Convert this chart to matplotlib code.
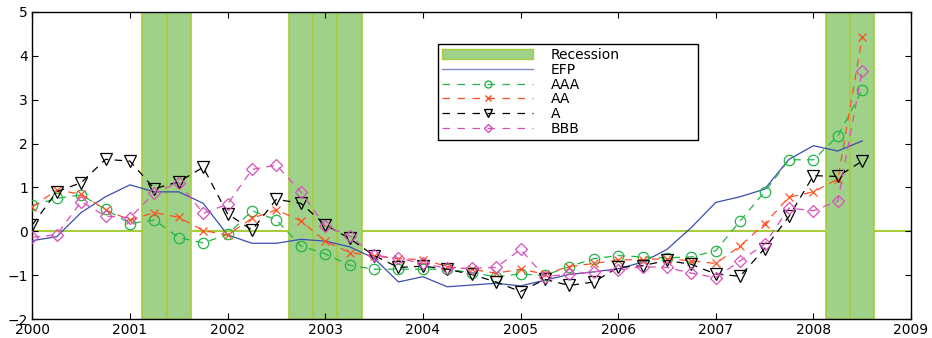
import matplotlib
matplotlib.use('Agg')
import matplotlib.pyplot as plt
from matplotlib.patches import Patch
from matplotlib.lines import Line2D
import numpy as np

plt.rcParams['font.family'] = ['DejaVu Sans']

# quarterly observations, 2000Q1 .. 2008Q3
t = 2000 + np.arange(35) * 0.25

efp = [-0.21, -0.12, 0.43, 0.79, 1.06, 0.9, 0.9, 0.64, -0.08, -0.27, -0.27, -0.18,
       -0.22, -0.35, -0.61, -1.15, -1.03, -1.26, -1.22, -1.18, -1.24, -1.11, -0.98, -0.92,
       -0.85, -0.7, -0.41, 0.09, 0.66, 0.79, 0.96, 1.64, 1.95, 1.83, 2.06]
aaa = [0.59, 0.75, 0.83, 0.5, 0.18, 0.26, -0.14, -0.26, -0.07, 0.47, 0.26, -0.33,
       -0.51, -0.77, -0.86, -0.86, -0.86, -0.86, -0.94, -1.03, -0.97, -1.0, -0.8, -0.62,
       -0.55, -0.58, -0.6, -0.58, -0.44, 0.24, 0.9, 1.63, 1.63, 2.17, 3.22]
aa = [0.56, 0.94, 0.85, 0.49, 0.26, 0.43, 0.32, 0.02, -0.08, 0.3, 0.49, 0.24,
      -0.22, -0.48, -0.56, -0.62, -0.64, -0.8, -0.86, -0.95, -0.86, -0.97, -0.8, -0.73,
      -0.65, -0.64, -0.62, -0.67, -0.73, -0.33, 0.17, 0.78, 0.9, 1.19, 4.42]
a = [0.15, 0.9, 1.11, 1.64, 1.6, 0.97, 1.13, 1.46, 0.4, 0.03, 0.73, 0.64,
     0.15, -0.16, -0.55, -0.82, -0.79, -0.86, -0.98, -1.15, -1.37, -1.09, -1.23, -1.15,
     -0.82, -0.78, -0.66, -0.75, -0.97, -1.02, -0.39, 0.34, 1.27, 1.25, 1.6]
bbb = [-0.13, -0.08, 0.68, 0.35, 0.31, 0.88, 1.11, 0.41, 0.62, 1.41, 1.51, 0.9,
       0.12, -0.1, -0.54, -0.61, -0.73, -0.84, -0.84, -0.82, -0.41, -1.03, -0.97, -0.92,
       -0.88, -0.8, -0.82, -0.95, -1.05, -0.67, -0.29, 0.53, 0.47, 0.69, 3.66]

# NBER recession quarters (centres)
recession = [2001.25, 2001.5, 2002.75, 2003.0, 2003.25, 2008.25, 2008.5]

fill_c = '#9fd189'
edge_c = '#a8cc3a'

fig = plt.figure(figsize=(9.32, 3.38), dpi=100)
ax = fig.add_axes([0.0347, 0.0553, 0.9428, 0.9101])

for q in recession:
    ax.axvspan(q - 0.125, q + 0.125, facecolor=fill_c, edgecolor=edge_c, linewidth=1.2, zorder=1)
ax.axhline(0, color=edge_c, linewidth=1.5, zorder=0.9)

ax.plot(t, efp, '-', color='#3b4db0', linewidth=0.9, zorder=3)
ax.plot(t, aaa, '--', color='#22b548', marker='o', mfc='none', ms=7.5, mew=0.9,
        linewidth=0.9, dashes=(6, 5), zorder=3)
ax.plot(t, aa, '--', color='#ff4f22', marker='x', ms=6, mew=0.9,
        linewidth=0.9, dashes=(6, 5), zorder=3)
ax.plot(t, a, '--', color='black', marker='v', mfc='none', ms=8.5, mew=0.9,
        linewidth=0.9, dashes=(6, 5), zorder=3)
ax.plot(t, bbb, '--', color='#d94fba', marker='D', mfc='none', ms=6, mew=0.9,
        linewidth=0.9, dashes=(6, 5), zorder=3)

handles = [
    Patch(facecolor=fill_c, edgecolor=edge_c),
    Line2D([], [], color='#7f88c8', linewidth=1.0),
    Line2D([], [], color='#22b548', ls='--', marker='o', mfc='none', ms=5, linewidth=0.9, dashes=(6, 6)),
    Line2D([], [], color='#ff4f22', ls='--', marker='x', ms=4, linewidth=0.9, dashes=(6, 6)),
    Line2D([], [], color='black', ls='--', marker='v', mfc='none', ms=6, linewidth=0.9, dashes=(6, 6)),
    Line2D([], [], color='#d94fba', ls='--', marker='D', mfc='none', ms=4.5, linewidth=0.9, dashes=(6, 6)),
]
labels = ['Recession', 'EFP', 'AAA', 'AA', 'A', 'BBB']
leg = ax.legend(handles, labels, loc='upper left',
                bbox_to_anchor=(0.462, 0.593, 0.295, 0.302), mode='expand',
                fontsize=10, frameon=True, fancybox=False, handlelength=6.5,
                handleheight=0.75, borderpad=0.3, labelspacing=0.05, handletextpad=1.3,
                borderaxespad=0)
leg.get_frame().set_edgecolor('black')
leg.get_frame().set_linewidth(1.0)
leg.get_frame().set_alpha(1)
leg.set_zorder(5)

ax.set_xlim(2000, 2009)
ax.set_ylim(-2, 5)
ax.set_xticks(range(2000, 2010))
ax.set_yticks(range(-2, 6))
ax.tick_params(direction='in', top=True, right=True, labelsize=10, length=4, pad=3)
for s in ax.spines.values():
    s.set_linewidth(1.0)

fig.savefig('out.png', dpi=100)
